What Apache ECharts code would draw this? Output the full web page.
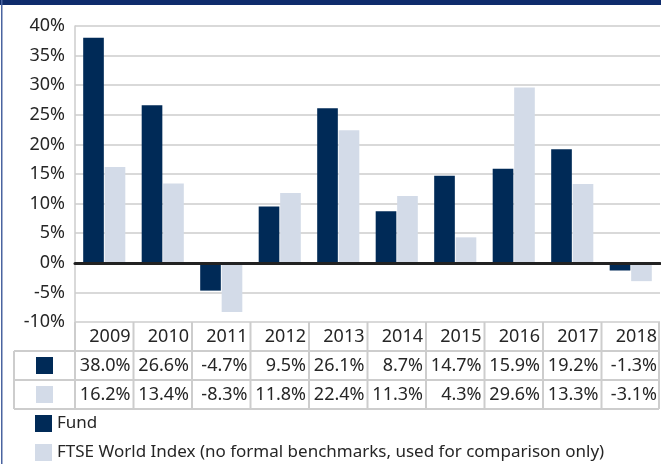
<!DOCTYPE html>
<html>
<head>
<meta charset="utf-8">
<script src="https://cdn.jsdelivr.net/npm/echarts@6/dist/echarts.min.js"></script>
<style>
  html, body { margin: 0; padding: 0; background: #fff; }
  #chart { width: 661px; height: 464px; }
</style>
</head>
<body>
<div id="chart"></div>
<script>
// data
const years = ['2009', '2010', '2011', '2012', '2013', '2014', '2015', '2016', '2017', '2018'];
const fund = [38.0, 26.6, -4.7, 9.5, 26.1, 8.7, 14.7, 15.9, 19.2, -1.3];
const ftse = [16.2, 13.4, -8.3, 11.8, 22.4, 11.3, 4.3, 29.6, 13.3, -3.1];
const seriesNames = ['Fund', 'FTSE World Index (no formal benchmarks, used for comparison only)'];
const yMin = -10;
const yMax = 40;
const yStep = 5;

const FONT = 'Noto Sans';
const FS = 18;
const NAVY = '#002a57';
const LIGHT = '#d3dbe8';
const TEXT = '#262626';
const LINE = '#cdcdcd';

const myChart = echarts.init(document.getElementById('chart'));

myChart.setOption({
  backgroundColor: '#fff',
  animation: false,
  textStyle: { fontFamily: FONT },
  grid: { left: 75, right: 1, top: 26, bottom: 142 },
  legend: {
    orient: 'vertical',
    left: 35,
    top: 415,
    padding: 0,
    itemWidth: 17,
    itemHeight: 17,
    itemGap: 12,
    icon: 'rect',
    textStyle: { fontSize: 17, color: TEXT, fontFamily: FONT },
    data: seriesNames,
  },
  xAxis: {
    type: 'category',
    data: years,
    axisTick: { show: false },
    axisLabel: { show: false },
    axisLine: { onZero: true, lineStyle: { color: '#222', width: 3 } },
    z: 5,
  },
  yAxis: {
    type: 'value',
    min: yMin,
    max: yMax,
    interval: yStep,
    axisLine: { show: true, lineStyle: { color: LINE, width: 1.5 } },
    axisTick: { show: false },
    axisLabel: {
      formatter: '{value}%',
      fontSize: FS,
      color: TEXT,
      margin: 10,
    },
    splitLine: { lineStyle: { color: LINE, width: 1.5 } },
  },
  series: [
    {
      name: seriesNames[0],
      type: 'bar',
      data: fund,
      barGap: '4%',
      barCategoryGap: '28%',
      itemStyle: { color: NAVY },
    },
    {
      name: seriesNames[1],
      type: 'bar',
      data: ftse,
      itemStyle: { color: LIGHT },
    },
  ],
});

// data table under the plot, positioned from the category axis
const c0 = myChart.convertToPixel({ xAxisIndex: 0 }, 0);
const c1 = myChart.convertToPixel({ xAxisIndex: 0 }, 1);
const band = c1 - c0;
const left0 = c0 - band / 2;
const right0 = left0 + band * years.length;
const top0 = myChart.convertToPixel({ yAxisIndex: 0 }, yMin);
const rowH = 29;
const keyLeft = 14;

const graphics = [];
// frame
graphics.push({ type: 'rect', shape: { x: 0, y: 0, width: 661, height: 5 }, style: { fill: '#0f2c6c' }, z: 10 });
graphics.push({ type: 'rect', shape: { x: 1, y: 0, width: 1.5, height: 464 }, style: { fill: '#4a64a0' }, z: 10 });

const hline = (x1, x2, y) => ({ type: 'line', shape: { x1, y1: y, x2, y2: y }, style: { stroke: LINE, lineWidth: 2 }, z: 1 });
const vline = (x, y1, y2) => ({ type: 'line', shape: { x1: x, y1, x2: x, y2 }, style: { stroke: LINE, lineWidth: 2 }, z: 1 });

for (let r = 1; r <= 3; r++) graphics.push(hline(keyLeft, right0 - 1, top0 + r * rowH));
graphics.push(vline(keyLeft, top0 + rowH, top0 + 3 * rowH));
for (let i = 0; i <= years.length; i++) {
  const x = Math.min(left0 + i * band, right0 - 1);
  graphics.push(vline(x, top0, top0 + 3 * rowH));
}

const rows = [years, fund.map(v => v.toFixed(1) + '%'), ftse.map(v => v.toFixed(1) + '%')];
rows.forEach((row, r) => {
  row.forEach((txt, i) => {
    graphics.push({
      type: 'text',
      x: left0 + (i + 1) * band - 3,
      y: top0 + r * rowH + rowH / 2,
      style: { text: txt, fontSize: FS, fontFamily: FONT, fill: TEXT, align: 'right', verticalAlign: 'middle' },
      z: 2,
    });
  });
});

// series keys in the table
[NAVY, LIGHT].forEach((col, k) => {
  const cy = top0 + (k + 1) * rowH + rowH / 2;
  graphics.push({ type: 'rect', shape: { x: (keyLeft + left0) / 2 - 8.5, y: cy - 8.5, width: 17, height: 17 }, style: { fill: col }, z: 2 });
});

myChart.setOption({ graphic: graphics });
</script>
</body>
</html>
